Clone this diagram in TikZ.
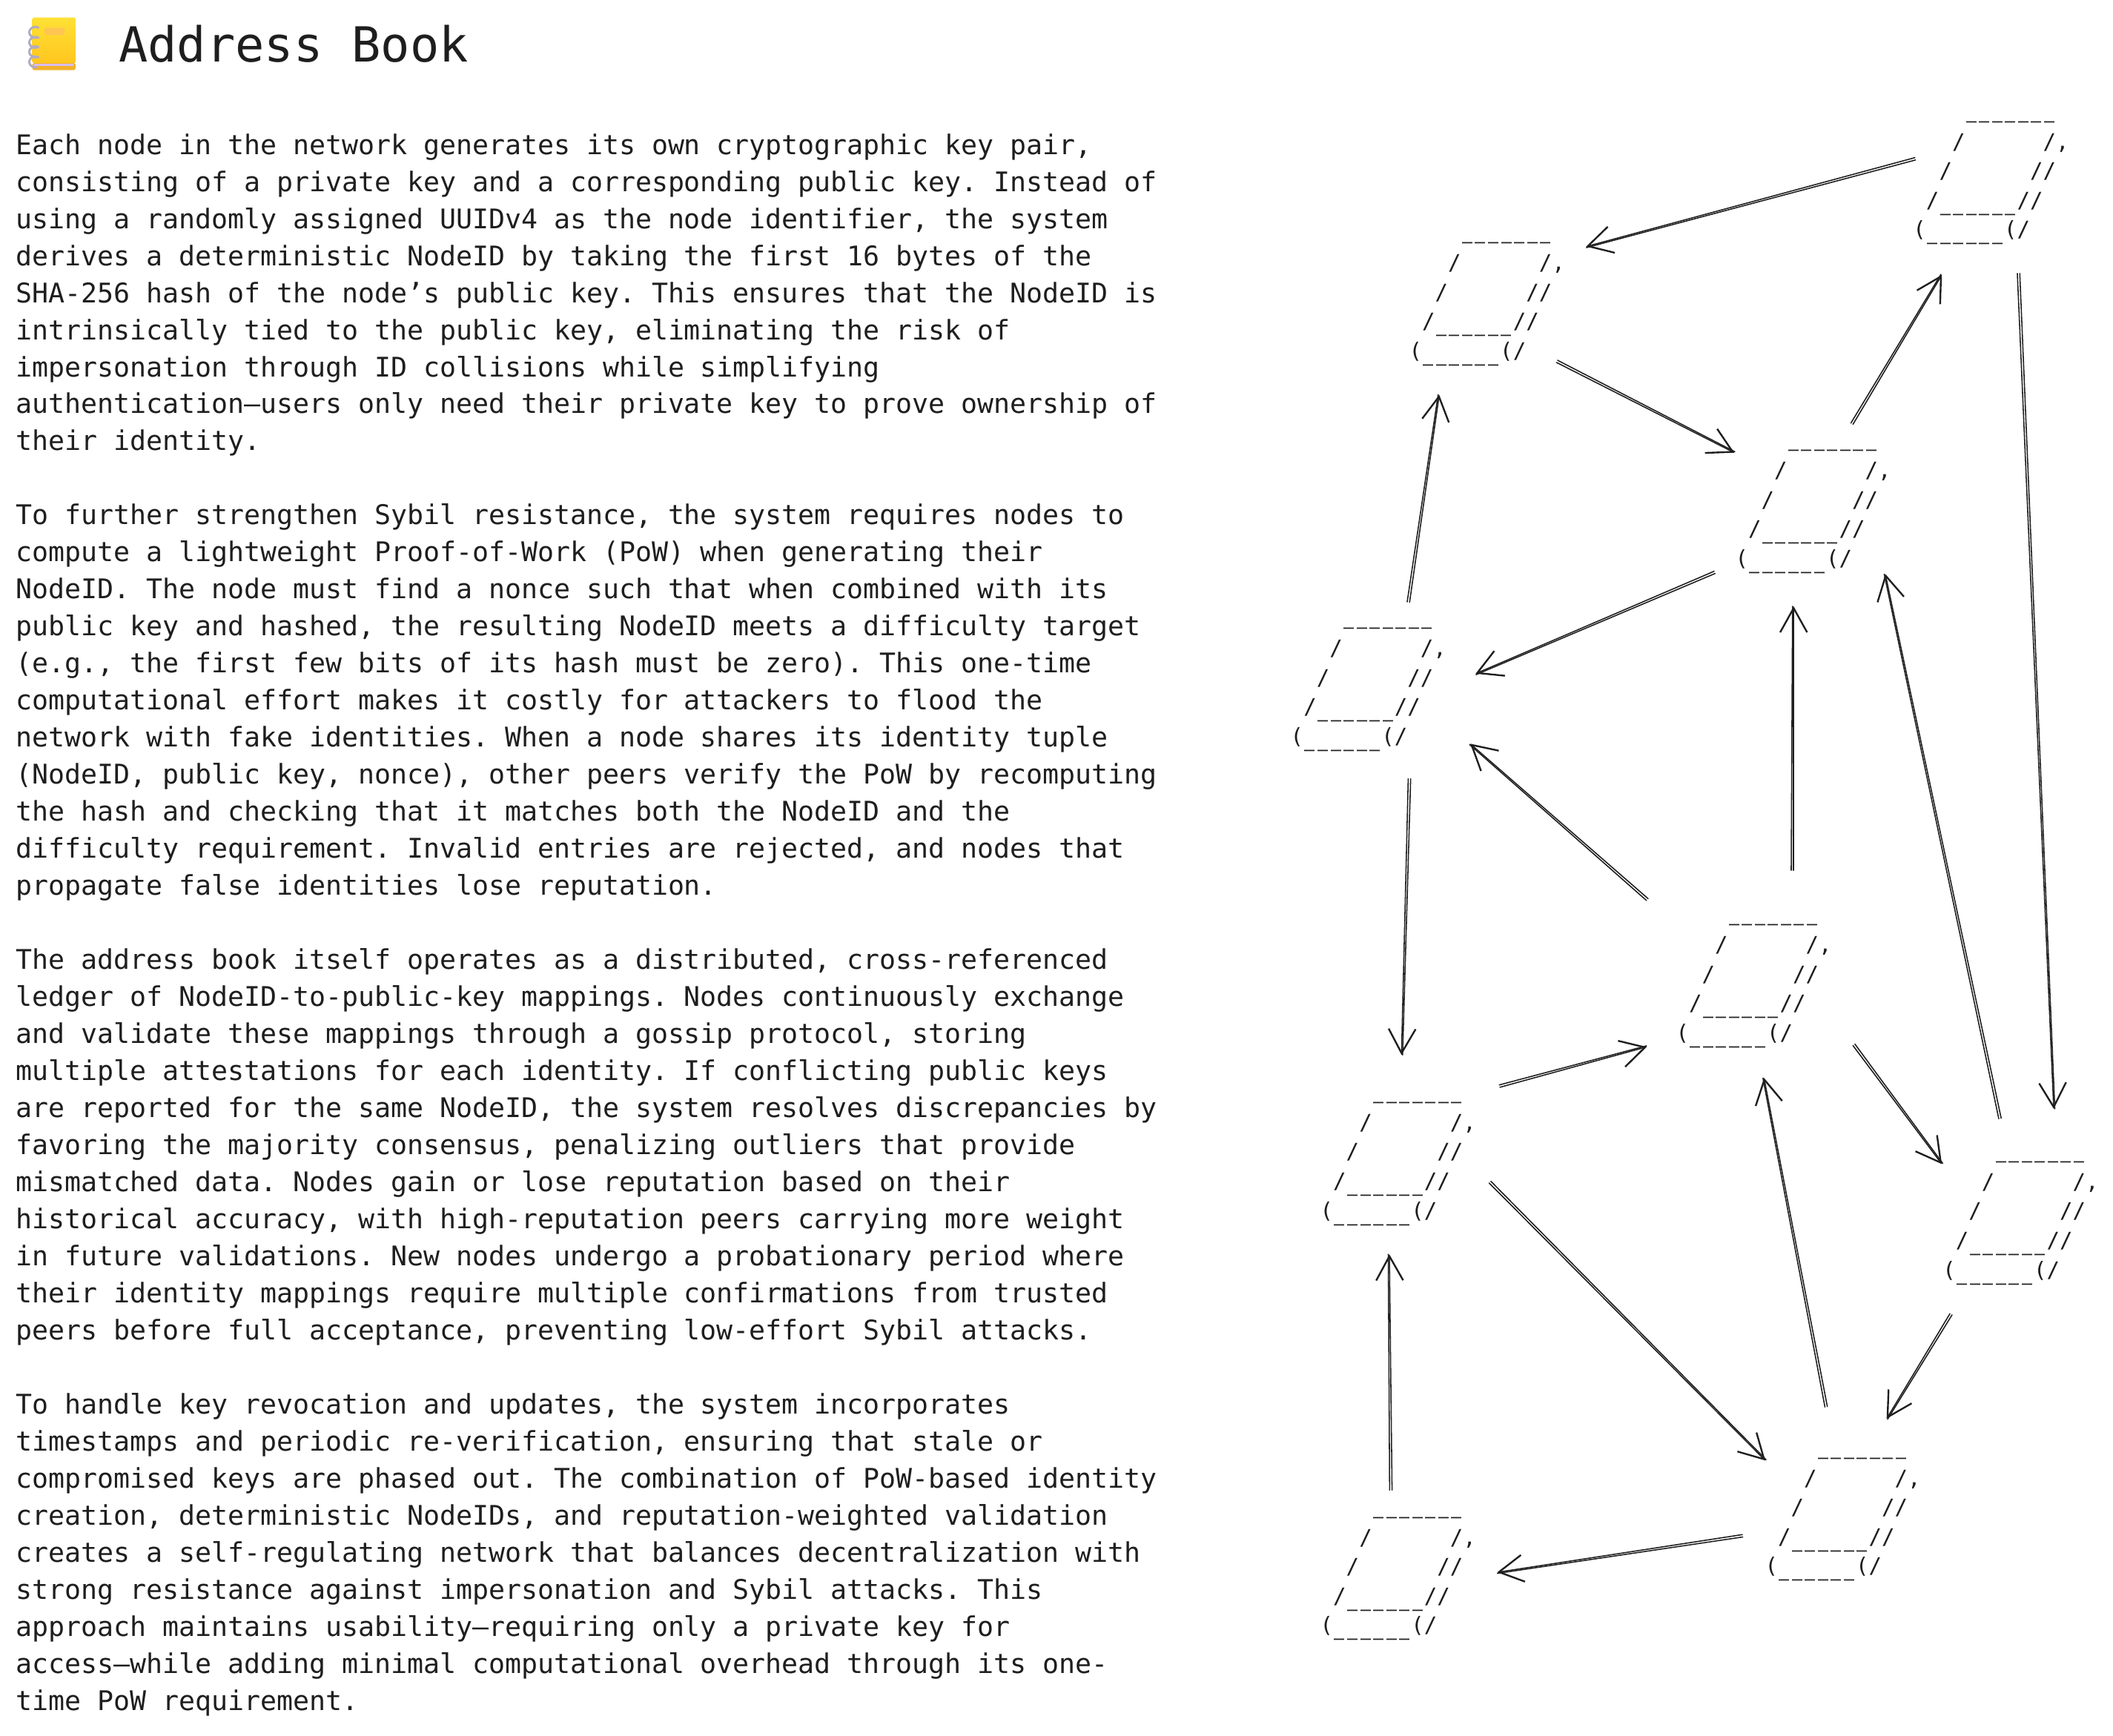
\documentclass[tikz,border=0pt]{standalone}
\usepackage{fontspec}
\usetikzlibrary{arrows.meta,calc}
\setmainfont{DejaVu Sans Mono}
\definecolor{ink}{HTML}{1E1E1E}
\definecolor{covertop}{HTML}{FFE135}
\definecolor{coverbot}{HTML}{FFC61E}
\definecolor{coverstrip}{HTML}{F2B32A}
\definecolor{pagelilac}{HTML}{D8BDF0}
\definecolor{labelor}{HTML}{FFC552}
\definecolor{ringgray}{HTML}{B4ACBE}
\tikzset{
  bodytext/.style={inner sep=0pt,anchor=north west,align=left,text=ink,font=\frenchspacing\fontsize{20.1}{27.5}\selectfont},
  titletext/.style={inner sep=0pt,anchor=west,text=ink,font=\fontsize{35.9}{40}\selectfont},
  cyl/.style={inner sep=0pt,anchor=north west,align=left,text=ink,font=\fontsize{16}{21.75}\selectfont},
  sk/.style={draw=ink,line width=0.85pt,line cap=round},
  skb/.style={draw=ink,line width=0.85pt,line cap=round},
  tipped/.style={-{Straight Barb[length=18pt,width=20pt,line width=1.3pt]}}
}
\newcommand{\us}{\makebox[0.602em]{\scalebox{0.8}[1.5]{\_}}}
\newcommand{\usr}[1]{\foreach \ui in {1,...,#1}{\us}}
\newcommand{\cylart}{\phantom{xxxx}\raisebox{3.5pt}{\usr{7}}\\
\phantom{xxx}/\phantom{xxxxxx}/,\\
\phantom{xx}/\phantom{xxxxxx}//\\
\phantom{x}/\usr{6}//\\
(\usr{6}(/}
\newcommand{\conn}[6]{%
  \coordinate (pa) at ([shift={(#2+1.5,-#3-7)}]#1.north west);
  \coordinate (pb) at ([shift={(#5+1.5,-#6-7)}]#4.north west);
  \draw[sk,tipped] (pa) -- (pb);
  \draw[skb] ($(pa)!1.8pt!90:(pb)$) -- ($(pb)!0.8pt!-90:(pa)$);
}
\begin{document}
\begin{tikzpicture}[x=1pt,y=1pt]
\useasboundingbox (0,0) rectangle (1568,-1288.5);
% notebook emoji
\shade[top color=covertop,bottom color=coverbot,rounded corners=1pt] (24,-13) rectangle (56,-47);
\fill[coverstrip,rounded corners=1pt] (24,-46.8) rectangle (56,-52);
\fill[pagelilac] (25.5,-47.4) rectangle (54.5,-49.2);
\fill[labelor,rounded corners=1pt] (33,-20.5) rectangle (48,-26);
\foreach \ry in {17.5,25,32,39.5}{
  \draw[ringgray,line width=1.7pt,line cap=round] (28.5,-\ry-3) arc[start angle=60,end angle=280,x radius=4.5,y radius=4];
}
\node[titletext] (title) at (88,-32.5) {Address Book};
\node[bodytext] (body) at (11.5,-99) {Each node in the network generates its own cryptographic key pair,\\
consisting of a private key and a corresponding public key. Instead of\\
using a randomly assigned UUIDv4 as the node identifier, the system\\
derives a deterministic NodeID by taking the first 16 bytes of the\\
SHA-256 hash of the node’s public key. This ensures that the NodeID is\\
intrinsically tied to the public key, eliminating the risk of\\
impersonation through ID collisions while simplifying\\
authentication—users only need their private key to prove ownership of\\
their identity.\\
\mbox{}\\
To further strengthen Sybil resistance, the system requires nodes to\\
compute a lightweight Proof-of-Work (PoW) when generating their\\
NodeID. The node must find a nonce such that when combined with its\\
public key and hashed, the resulting NodeID meets a difficulty target\\
(e.g., the first few bits of its hash must be zero). This one-time\\
computational effort makes it costly for attackers to flood the\\
network with fake identities. When a node shares its identity tuple\\
(NodeID, public key, nonce), other peers verify the PoW by recomputing\\
the hash and checking that it matches both the NodeID and the\\
difficulty requirement. Invalid entries are rejected, and nodes that\\
propagate false identities lose reputation.\\
\mbox{}\\
The address book itself operates as a distributed, cross-referenced\\
ledger of NodeID-to-public-key mappings. Nodes continuously exchange\\
and validate these mappings through a gossip protocol, storing\\
multiple attestations for each identity. If conflicting public keys\\
are reported for the same NodeID, the system resolves discrepancies by\\
favoring the majority consensus, penalizing outliers that provide\\
mismatched data. Nodes gain or lose reputation based on their\\
historical accuracy, with high-reputation peers carrying more weight\\
in future validations. New nodes undergo a probationary period where\\
their identity mappings require multiple confirmations from trusted\\
peers before full acceptance, preventing low-effort Sybil attacks.\\
\mbox{}\\
To handle key revocation and updates, the system incorporates\\
timestamps and periodic re-verification, ensuring that stale or\\
compromised keys are phased out. The combination of PoW-based identity\\
creation, deterministic NodeIDs, and reputation-weighted validation\\
creates a self-regulating network that balances decentralization with\\
strong resistance against impersonation and Sybil attacks. This\\
approach maintains usability—requiring only a private key for\\
access—while adding minimal computational overhead through its one-\\
time PoW requirement.};
\node[cyl] (c1) at (1419.5,-80) {\cylart};
\node[cyl] (c2) at (1045.5,-170) {\cylart};
\node[cyl] (c3) at (1287.5,-324) {\cylart};
\node[cyl] (c4) at (957.5,-456) {\cylart};
\node[cyl] (c5) at (1243.5,-676) {\cylart};
\node[cyl] (c6) at (979.5,-808) {\cylart};
\node[cyl] (c7) at (1441.5,-852) {\cylart};
\node[cyl] (c8) at (1309.5,-1072) {\cylart};
\node[cyl] (c9) at (979.5,-1116) {\cylart};
\conn{c1}{0}{30}{c2}{130}{6}
\conn{c2}{108}{92}{c3}{-2}{5}
\conn{c3}{86}{-16}{c1}{20}{117}
\conn{c1}{76}{116}{c7}{81}{-36}
\conn{c3}{-17}{93}{c4}{136}{37}
\conn{c4}{87}{-16}{c2}{21}{116}
\conn{c4}{86}{115}{c6}{59}{-32}
\conn{c5}{-22}{-16}{c4}{132}{89}
\conn{c5}{86}{-37}{c3}{42}{119}
\conn{c7}{42}{-29}{c3}{110}{95}
\conn{c6}{132}{-8}{c5}{-23}{94}
\conn{c5}{130}{93}{c7}{-2}{5}
\conn{c6}{124}{63}{c8}{-1}{5}
\conn{c8}{45}{-35}{c5}{64}{117}
\conn{c7}{4}{116}{c8}{89}{-26}
\conn{c8}{-18}{60}{c9}{130}{44}
\conn{c9}{52}{-17}{c6}{50}{116}
\end{tikzpicture}
\end{document}
